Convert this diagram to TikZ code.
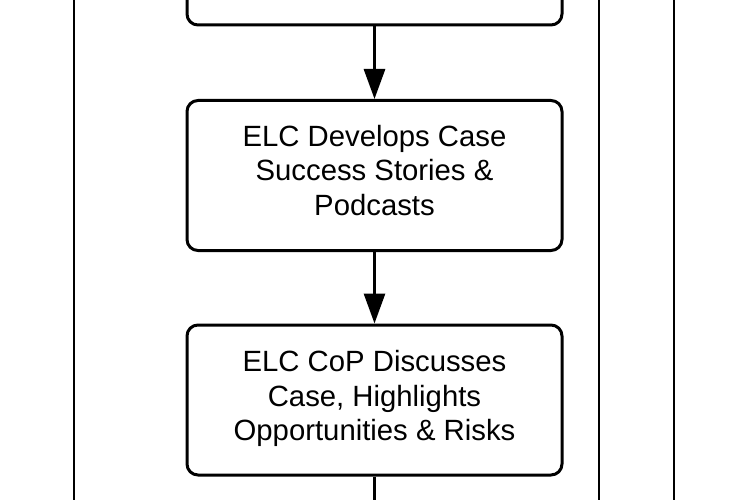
\documentclass[tikz,border=0pt]{standalone}
\usepackage{fontspec}
\setmainfont{Liberation Sans}
\usetikzlibrary{arrows.meta}
\begin{document}
\begin{tikzpicture}[x=1pt,y=-1pt,
  stepbox/.style={draw, line width=3pt, rounded corners=11pt, minimum width=375pt, minimum height=150pt, inner sep=0pt},
  steptext/.style={align=center, inner sep=0pt, font=\fontsize{29.3}{34.5}\selectfont, text=black},
  flow/.style={line width=3pt, -{Triangle[length=30pt,width=21pt]}},
  lane/.style={line width=2.2pt}]
\clip (0,0) rectangle (750,500);
\node[stepbox] (b1) at (374.5,-50) {};
\node[stepbox] (b2) at (374.5,175.5) {};
\node[steptext] (t2) at (374.5,170.5) {ELC Develops Case\\Success Stories \&\\Podcasts};
\node[stepbox] (b3) at (374.5,400) {};
\node[steptext] (t3) at (374.5,398.5) {ELC CoP Discusses\\Case, Highlights\\Opportunities \& Risks};
\coordinate (out) at (374.5,520);
\draw[flow] (b1) -- (b2);
\draw[flow] (b2) -- (b3);
\draw[line width=3pt] (b3) -- (out);
\coordinate (l1t) at (74,-10); \coordinate (l1b) at (74,510);
\coordinate (l2t) at (599,-10); \coordinate (l2b) at (599,510);
\coordinate (l3t) at (674,-10); \coordinate (l3b) at (674,510);
\draw[lane] (l1t) -- (l1b);
\draw[lane] (l2t) -- (l2b);
\draw[lane] (l3t) -- (l3b);
\end{tikzpicture}
\end{document}
